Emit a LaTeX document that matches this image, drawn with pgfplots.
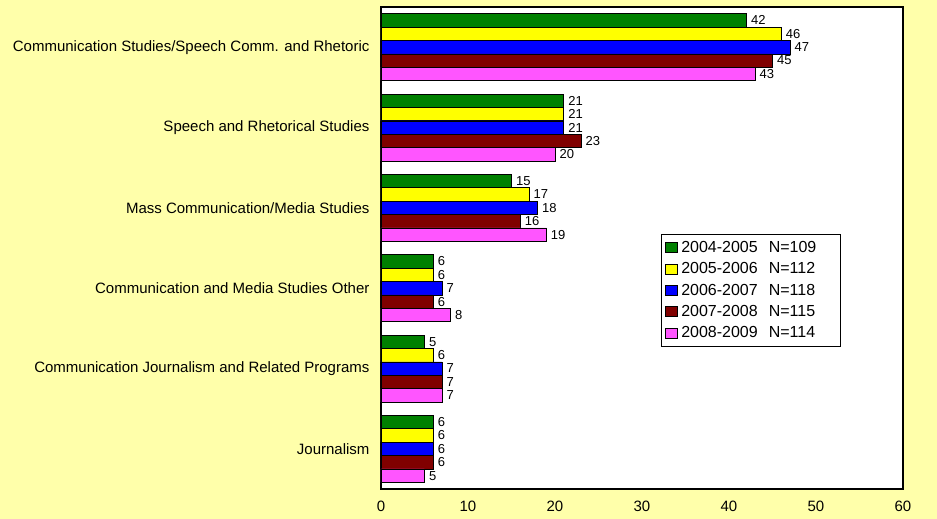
\documentclass[border=0pt]{standalone}
\usepackage{pgfplots}
\pgfplotsset{compat=1.18}
\usepackage{fontspec}
\setmainfont{Liberation Sans}
\definecolor{bgy}{RGB}{255,255,170}
\definecolor{cgreen}{RGB}{0,128,0}
\definecolor{cyellow}{RGB}{255,255,0}
\definecolor{cblue}{RGB}{0,0,255}
\definecolor{cred}{RGB}{128,0,0}
\definecolor{cpink}{RGB}{255,85,255}
\newcommand{\legentry}[2]{#1\hspace{11pt}N=#2\hspace*{18pt}}
\begin{document}
\begin{tikzpicture}[x=1pt,y=1pt]
\fill[bgy] (0,0) rectangle (937,519);
\begin{axis}[
  at={(381pt,30pt)}, anchor=south west,
  scale only axis, width=522pt, height=482pt,
  xbar, bar shift=0pt, bar width=0.16667,
  xmin=0, xmax=60, ymin=0, ymax=6,
  xtick={0,10,...,60},
  ytick={0.5,1.5,2.5,3.5,4.5,5.5},
  yticklabels={Journalism,Communication Journalism and Related Programs,Communication and Media Studies Other,Mass Communication/Media Studies,Speech and Rhetorical Studies,Communication Studies/Speech Comm. and Rhetoric},
  major tick length=0pt,
  axis line style={line width=1.6pt},
  axis background/.style={fill=white},
  /pgf/number format/assume math mode=true,
  ticklabel style={font=\fontsize{15}{17}\selectfont},
  yticklabel style={xshift=-8pt},
  xticklabel style={yshift=-8pt},
  every axis plot/.append style={draw=black, line width=0.6pt},
  nodes near coords,
  nodes near coords style={font=\fontsize{13}{14}\selectfont, black, xshift=1pt},
  legend style={at={(0.536,0.529)}, anchor=north west, draw=black, line width=0.8pt,
    font=\fontsize{16}{18}\selectfont, cells={anchor=west}, row sep=4.6pt, inner xsep=3.5pt, inner ysep=5pt},
  legend image code/.code={\draw[#1,line width=0.6pt] (0pt,-5pt) rectangle (12pt,5pt); \path (14pt,0pt);},
]
\addplot[fill=cgreen] coordinates {(42,5.8333) (21,4.8333) (15,3.8333) (6,2.8333) (5,1.8333) (6,0.8333)};
\addplot[fill=cyellow] coordinates {(46,5.6667) (21,4.6667) (17,3.6667) (6,2.6667) (6,1.6667) (6,0.6667)};
\addplot[fill=cblue] coordinates {(47,5.5) (21,4.5) (18,3.5) (7,2.5) (7,1.5) (6,0.5)};
\addplot[fill=cred] coordinates {(45,5.3333) (23,4.3333) (16,3.3333) (6,2.3333) (7,1.3333) (6,0.3333)};
\addplot[fill=cpink] coordinates {(43,5.1667) (20,4.1667) (19,3.1667) (8,2.1667) (7,1.1667) (5,0.1667)};
\legend{\legentry{2004-2005}{109},\legentry{2005-2006}{112},\legentry{2006-2007}{118},\legentry{2007-2008}{115},\legentry{2008-2009}{114}}
\end{axis}
\end{tikzpicture}
\end{document}
